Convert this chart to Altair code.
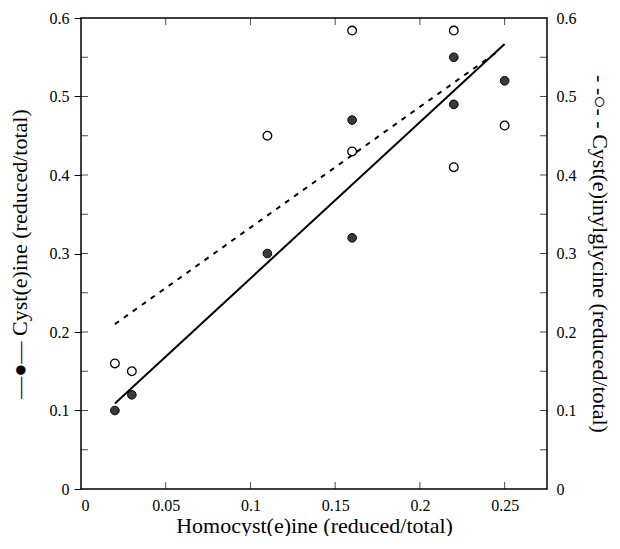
import altair as alt
import pandas as pd

# Data
homocys_x = [0.02, 0.03, 0.11, 0.16, 0.16, 0.22, 0.22, 0.25]
cys_y = [0.10, 0.12, 0.30, 0.32, 0.47, 0.49, 0.55, 0.52]
gly_x = [0.02, 0.03, 0.11, 0.16, 0.16, 0.22, 0.22, 0.25]
gly_y = [0.16, 0.15, 0.45, 0.43, 0.584, 0.41, 0.584, 0.463]
fit_cys_x = [0.02, 0.25]
fit_cys_y = [0.109, 0.567]
fit_gly_x = [0.02, 0.245]
fit_gly_y = [0.21, 0.556]
x_ticks = [0, 0.05, 0.1, 0.15, 0.2, 0.25]
y_labels = [0, 0.1, 0.2, 0.3, 0.4, 0.5, 0.6]
y_minor = [0.05, 0.1, 0.15, 0.2, 0.25, 0.3, 0.35, 0.4, 0.45, 0.5, 0.55]

FONT = "Liberation Serif"
W, H, TK = 466, 471, 7
xs = alt.Scale(domain=[0, 0.275], nice=False)
ys = alt.Scale(domain=[0, 0.6], nice=False)

df_cys = pd.DataFrame({"x": homocys_x, "y": cys_y})
df_gly = pd.DataFrame({"x": gly_x, "y": gly_y})
df_fc = pd.DataFrame({"x": fit_cys_x, "y": fit_cys_y})
df_fg = pd.DataFrame({"x": fit_gly_x, "y": fit_gly_y})
df_xt = pd.DataFrame({"v": x_ticks[1:]})
df_yt = pd.DataFrame({"v": y_minor})


def label_axis(orient, values, title, title_pad, tick=True, lpad=6):
    return alt.Axis(orient=orient, values=values, format="~g", title=title,
                    domain=False, ticks=tick, tickSize=7, tickColor="black",
                    grid=False, labelFont=FONT, labelFontSize=16,
                    labelColor="black", labelPadding=lpad,
                    titleFont=FONT, titleFontSize=22, titleFontWeight="normal",
                    titleColor="black", titlePadding=title_pad)


filled = alt.Chart(df_cys).mark_point(
    filled=True, size=75, color="#3a3a3a", stroke="black", strokeWidth=1, opacity=1
).encode(
    x=alt.X("x:Q", scale=xs, axis=label_axis("bottom", x_ticks, "Homocyst(e)ine (reduced/total)", 2, tick=False, lpad=8)),
    y=alt.Y("y:Q", scale=ys, axis=label_axis("left", y_labels, "—●— Cyst(e)ine (reduced/total)", 18, lpad=5)),
)

opened = alt.Chart(df_gly).mark_point(
    filled=False, size=75, color="black", fill="white", fillOpacity=1, strokeWidth=1.3, opacity=1
).encode(
    x=alt.X("x:Q", scale=xs, axis=None),
    y=alt.Y("y:Q", scale=ys, axis=label_axis("right", y_labels, "- -○- - Cyst(e)inylglycine (reduced/total)", 11, tick=False, lpad=9)),
)

line_c = alt.Chart(df_fc).mark_line(color="black", strokeWidth=2).encode(
    x=alt.X("x:Q", scale=xs, axis=None),
    y=alt.Y("y:Q", scale=ys, axis=None),
)

line_g = alt.Chart(df_fg).mark_line(color="black", strokeWidth=2, strokeDash=[5, 6]).encode(
    x=alt.X("x:Q", scale=xs, axis=None),
    y=alt.Y("y:Q", scale=ys, axis=None),
)

# inward ticks on all four sides (half of each tick is clipped away by the frame)
tk_bottom = alt.Chart(df_xt).mark_tick(color="black", thickness=1, size=TK * 2, orient="vertical", clip=True).encode(
    x=alt.X("v:Q", scale=xs, axis=None), y=alt.value("height"))
tk_top = alt.Chart(df_xt).mark_tick(color="black", thickness=1, size=TK * 2, orient="vertical", clip=True).encode(
    x=alt.X("v:Q", scale=xs, axis=None), y=alt.value(0))
tk_left = alt.Chart(df_yt).mark_tick(color="black", thickness=1, size=TK * 2, orient="horizontal", clip=True).encode(
    y=alt.Y("v:Q", scale=ys, axis=None), x=alt.value(0))
tk_right = alt.Chart(df_yt).mark_tick(color="black", thickness=1, size=TK * 2, orient="horizontal", clip=True).encode(
    y=alt.Y("v:Q", scale=ys, axis=None), x=alt.value("width"))

chart = alt.layer(tk_bottom, tk_top, tk_left, tk_right, line_g, line_c, opened, filled).resolve_axis(
    x="independent", y="independent"
).properties(
    width=W, height=H,
    padding={"left": 0, "top": 2, "right": 0, "bottom": 0},
).configure(
    background="white", font=FONT
).configure_view(
    stroke="black", strokeWidth=1.5
)

chart.save("out.html", embed_options={"renderer": "svg", "actions": False})
